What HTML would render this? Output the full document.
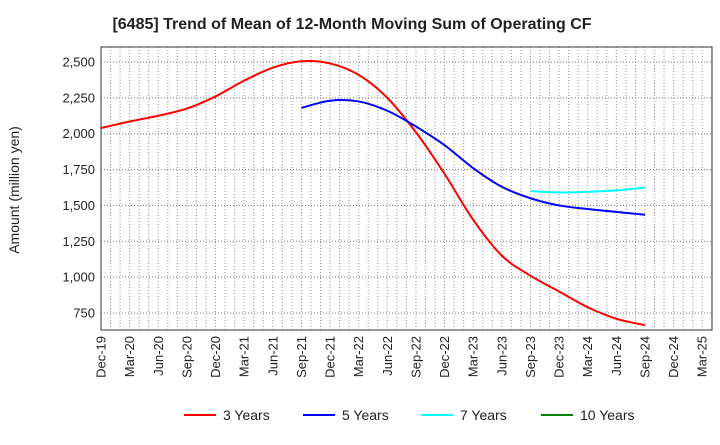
<!DOCTYPE html>
<html><head><meta charset="utf-8"><style>
body{margin:0;background:#fff;font-family:"Liberation Sans",sans-serif}
</style></head><body>
<svg id="c" width="720" height="440" xmlns="http://www.w3.org/2000/svg" font-family="Liberation Sans, sans-serif"></svg>
<script>
const xLabels=["Dec-19","Mar-20","Jun-20","Sep-20","Dec-20","Mar-21","Jun-21","Sep-21","Dec-21","Mar-22","Jun-22","Sep-22","Dec-22","Mar-23","Jun-23","Sep-23","Dec-23","Mar-24","Jun-24","Sep-24","Dec-24","Mar-25"];
const yTicks=[750,1000,1250,1500,1750,2000,2250,2500];
const s3=[2040,2085,2125,2175,2260,2370,2460,2505,2490,2410,2250,2010,1720,1400,1150,1010,900,790,710,665];
const s5=[2180,2230,2225,2160,2050,1920,1760,1630,1550,1500,1475,1455,1435];
const s7=[1600,1590,1595,1605,1625];
const s10=[];
const series=[{name:"3 Years",color:"#ff0000",start:0,data:s3},{name:"5 Years",color:"#0000ff",start:7,data:s5},{name:"7 Years",color:"#00ffff",start:15,data:s7},{name:"10 Years",color:"#008000",start:0,data:s10}];
const svg=document.getElementById('c');const NS="http://www.w3.org/2000/svg";
const L=101,R=712,T=47,B=330,DX=28.63;
const X=i=>L+DX*i;
const Y=v=>62+(2500-v)*(313-62)/1750;
function mk(t,a,p){const e=document.createElementNS(NS,t);for(const k in a)e.setAttribute(k,a[k]);(p||svg).appendChild(e);return e;}
let t=mk('text',{x:352,y:29,'text-anchor':'middle','font-size':16,'font-weight':'bold',fill:'#222'});t.textContent="[6485]  Trend of Mean of 12-Month Moving Sum of Operating CF";

const g=mk('g',{});
for(let m=1;L+DX*m/3<R;m++){const x=L+DX*m/3;mk('line',{x1:x,x2:x,y1:T,y2:B,stroke:'#999','stroke-dasharray':'1,2','stroke-width':1},g);}
yTicks.forEach(v=>{mk('line',{x1:L,x2:R,y1:Y(v),y2:Y(v),stroke:'#777','stroke-dasharray':'1,2'},g);
const e=mk('text',{x:L-6,y:Y(v)+4.5,'text-anchor':'end','font-size':13,fill:'#222'});e.textContent=v.toLocaleString('en-US');
});
const f=mk('rect',{x:L,y:T,width:R-L,height:B-T,fill:'none',stroke:'#333'});
xLabels.forEach((s,i)=>{const e=mk('text',{transform:`translate(${X(i)+4.5},${B+6}) rotate(-90)`,'text-anchor':'end','font-size':13,fill:'#222'});e.textContent=s;
});
const yt=mk('text',{transform:'translate(19,190) rotate(-90)','text-anchor':'middle','font-size':14,fill:'#222'});yt.textContent="Amount (million yen)";

function path(pts){if(pts.length<2)return"";let d=`M${pts[0][0]},${pts[0][1]}`;for(let i=0;i<pts.length-1;i++){const p0=pts[i-1]||pts[i],p1=pts[i],p2=pts[i+1],p3=pts[i+2]||p2;
d+=` C${p1[0]+(p2[0]-p0[0])/6},${p1[1]+(p2[1]-p0[1])/6} ${p2[0]-(p3[0]-p1[0])/6},${p2[1]-(p3[1]-p1[1])/6} ${p2[0]},${p2[1]}`;}return d;}
series.forEach(s=>{if(!s.data.length)return;const p=mk('path',{d:path(s.data.map((v,i)=>[X(s.start+i),Y(v)])),fill:'none',stroke:s.color,'stroke-width':2});
});
const lx=[184,303,421,541];
series.forEach((s,i)=>{const lg=mk('g',{});
mk('line',{x1:lx[i],x2:lx[i]+32,y1:415,y2:415,stroke:s.color,'stroke-width':2},lg);
const e=mk('text',{x:lx[i]+39,y:420,'font-size':14,fill:'#222'},lg);e.textContent=s.name;});
</script></body></html>
